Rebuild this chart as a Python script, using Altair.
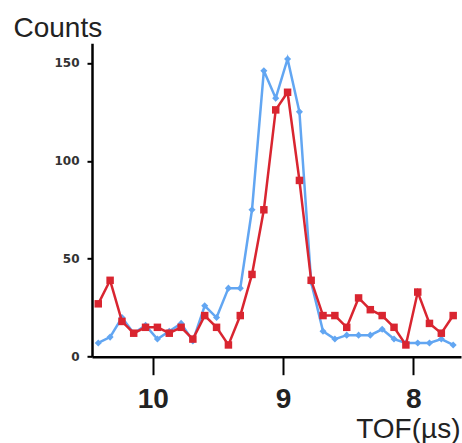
import altair as alt
import pandas as pd

# Time of flight (µs) of each bin
tof = [10.418, 10.327, 10.236, 10.146, 10.055, 9.964, 9.873, 9.782, 9.692, 9.601,
       9.510, 9.419, 9.328, 9.238, 9.147, 9.056, 8.965, 8.874, 8.784, 8.693,
       8.602, 8.511, 8.420, 8.330, 8.239, 8.148, 8.057, 7.966, 7.876, 7.785, 7.694]

counts_blue = [7, 10, 20, 12, 16, 9, 13, 17, 8, 26,
               20, 35, 35, 75, 146, 132, 152, 125, 38, 13,
               9, 11, 11, 11, 14, 9, 7, 7, 7, 9, 6]

counts_red = [27, 39, 18, 12, 15, 15, 12, 15, 9, 21,
              15, 6, 21, 42, 75, 126, 135, 90, 39, 21,
              21, 15, 30, 24, 21, 15, 6, 33, 17, 12, 21]

x_ticks = [10, 9, 8]
y_ticks = [0, 50, 100, 150]

blue = "#62a6f2"
red = "#d92530"

df_blue = pd.DataFrame({"tof": tof, "counts": counts_blue})
df_red = pd.DataFrame({"tof": tof, "counts": counts_red})

x_enc = alt.X(
    "tof:Q",
    scale=alt.Scale(domain=[7.634, 10.466], reverse=True, nice=False, zero=False),
    axis=alt.Axis(
        values=x_ticks, format="d", grid=False,
        domainColor="black", domainWidth=2.5,
        tickColor="black", tickWidth=2, tickSize=18,
        labelFont="Liberation Sans", labelFontSize=28, labelFontWeight="bold",
        labelColor="#222222", labelPadding=11,
        title="TOF(µs)", titleFont="Liberation Sans", titleFontSize=28,
        titleFontWeight="normal", titleColor="#222222",
        titleAngle=0, titleAlign="right", titleBaseline="alphabetic",
        titleX=368, titleY=81,
    ),
)

y_enc = alt.Y(
    "counts:Q",
    scale=alt.Scale(domain=[0, 160], nice=False),
    axis=alt.Axis(
        values=y_ticks, grid=False,
        domainColor="black", domainWidth=2.5,
        tickColor="black", tickWidth=2, tickSize=5,
        labelFont="DejaVu Sans", labelFontSize=12, labelFontWeight="bold",
        labelColor="#333333", labelPadding=8,
        title="Counts", titleFont="Liberation Sans", titleFontSize=28,
        titleFontWeight="normal", titleColor="#222222",
        titleAngle=0, titleAlign="left", titleBaseline="alphabetic",
        titleX=-79, titleY=-7,
    ),
)

blue_line = alt.Chart(df_blue).mark_line(color=blue, strokeWidth=2.5).encode(x=x_enc, y=y_enc)
blue_pts = alt.Chart(df_blue).mark_point(shape="diamond", filled=True, color=blue, size=50, opacity=1).encode(x=x_enc, y=y_enc)
red_line = alt.Chart(df_red).mark_line(color=red, strokeWidth=2.5).encode(x=x_enc, y=y_enc)
red_pts = alt.Chart(df_red).mark_point(shape="square", filled=True, color=red, size=56, opacity=1).encode(x=x_enc, y=y_enc)

chart = alt.layer(blue_line, blue_pts, red_line, red_pts).properties(
    width=369,
    height=313.4,
    padding={"left": 92, "top": 43.3, "right": 1, "bottom": 86.3},
    autosize=alt.AutoSizeParams(type="none"),
    background="white",
).configure_view(stroke=None)

chart.save("out.html", embed_options={"renderer": "svg", "actions": False})
